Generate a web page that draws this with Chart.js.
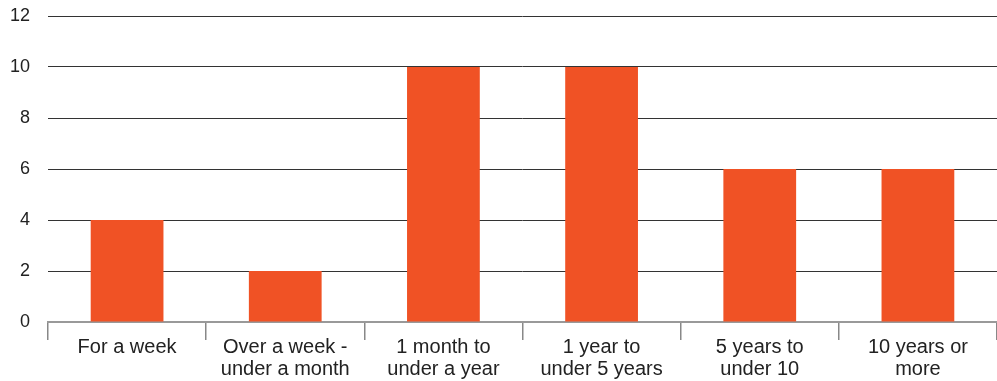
<!DOCTYPE html>
<html>
<head>
<meta charset="utf-8">
<script src="https://cdn.jsdelivr.net/npm/chart.js@4"></script>
<style>
  html, body { margin: 0; padding: 0; background: #fff; }
  #wrap { width: 997px; height: 381px; }
</style>
</head>
<body>
<div id="wrap"><canvas id="durationChart"></canvas></div>
<script>
// categories and values
const categories = [
    ["For a week"],
    ["Over a week -", "under a month"],
    ["1 month to", "under a year"],
    ["1 year to", "under 5 years"],
    ["5 years to", "under 10"],
    ["10 years or", "more"]
];
const counts = [4, 2, 10, 10, 6, 6];
const yTicks = [0, 2, 4, 6, 8, 10, 12];

document.addEventListener("DOMContentLoaded", () => {
    const ctx = document.getElementById("durationChart");
    new Chart(ctx, {
        type: "bar",
        data: {
            labels: categories,
            datasets: [{
                label: "Count",
                data: counts,
                backgroundColor: "#F05225",
                categoryPercentage: 1,
                barPercentage: 0.46
            }]
        },
        options: {
            responsive: true,
            maintainAspectRatio: false,
            animation: false,
            layout: { padding: { top: 16, right: 0, left: 0, bottom: 0 } },
            plugins: {
                legend: { display: false },
                tooltip: { enabled: false }
            },
            scales: {
                x: {
                    offset: true,
                    afterFit: (axis) => {
                        axis.height = 59;
                        axis.paddingLeft = 0;
                        axis.paddingRight = 0;
                    },
                    border: { display: true, color: "#999", width: 2 },
                    grid: {
                        offset: true,
                        drawOnChartArea: false,
                        drawTicks: true,
                        tickLength: 18,
                        color: "#888",
                        lineWidth: 1.5
                    },
                    ticks: {
                        color: "#222",
                        font: { family: "Liberation Sans, Arial, sans-serif", size: 20, lineHeight: 1.12 },
                        padding: -4,
                        maxRotation: 0,
                        autoSkip: false
                    }
                },
                y: {
                    min: 0,
                    max: 12,
                    afterBuildTicks: (axis) => {
                        axis.ticks = yTicks.map(v => ({ value: v }));
                    },
                    afterFit: (axis) => {
                        axis.width = 48;
                        axis.paddingTop = 0;
                        axis.paddingBottom = 0;
                    },
                    border: { display: false },
                    grid: {
                        drawTicks: false,
                        color: (c) => c.tick && c.tick.value === 0 ? "rgba(0,0,0,0)" : "#333",
                        lineWidth: 1
                    },
                    ticks: {
                        color: "#222",
                        font: { family: "Liberation Sans, Arial, sans-serif", size: 18 },
                        padding: 18
                    }
                }
            }
        }
    });
});
</script>
</body>
</html>
